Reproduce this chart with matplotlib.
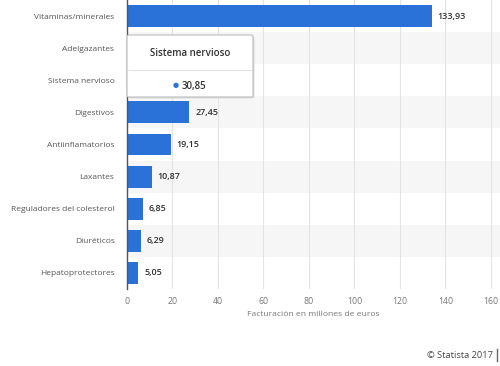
import numpy as np
import matplotlib
matplotlib.use("Agg")
import matplotlib.pyplot as plt
from matplotlib.patches import FancyBboxPatch
from matplotlib.lines import Line2D

categories = ["Vitaminas/minerales", "Adelgazantes", "Sistema nervioso", "Digestivos",
              "Antiinflamatorios", "Laxantes", "Reguladores del colesterol",
              "Diuréticos", "Hepatoprotectores"]
values = [133.93, 35.0, 30.85, 27.45, 19.15, 10.87, 6.85, 6.29, 5.05]
xticks = [0, 20, 40, 60, 80, 100, 120, 140, 160]
# rows covered by the hover tooltip in the original screenshot
covered = [1, 2]
tooltip_row = 2

plt.rcParams['font.family'] = ['Open Sans', 'DejaVu Sans']

W, H = 500, 366
fig = plt.figure(figsize=(5, 3.66), dpi=100)
ax = fig.add_axes([127 / W, 1 - 289 / H, 1 - 127 / W, 289 / H])

y = np.arange(len(categories))
# alternating row bands
for i in y:
    if i % 2 == 1:
        ax.axhspan(i - 0.5, i + 0.5, color='#f6f6f6', zorder=0, lw=0)

ax.barh(y, values, height=0.68, color='#2a72d8', zorder=2)
for yi, v in zip(y, values):
    if yi in covered:
        continue
    ax.text(v + 2.5, yi, f"{v:.2f}".replace('.', ','), va='center', ha='left',
            fontsize=6.5, color='#333333', fontweight='semibold', zorder=3)

ax.set_xlim(0, 164)
ax.set_ylim(len(categories) - 0.5, -0.5)
ax.set_xticks(xticks)
ax.set_yticks(y)
ax.set_yticklabels(categories)
ax.tick_params(axis='y', length=0, pad=9, labelsize=6.0, labelcolor='#555555')
ax.tick_params(axis='x', length=0, pad=6, labelsize=6.3, labelcolor='#777777')
ax.grid(axis='x', color='#e4e4e4', lw=0.8, zorder=1)
ax.set_axisbelow(True)
for sp in ['top', 'right', 'bottom']:
    ax.spines[sp].set_visible(False)
ax.spines['left'].set_color('#555555')
ax.spines['left'].set_linewidth(1.0)
ax.spines['left'].set_zorder(4)
ax.set_xlabel("Facturación en millones de euros", fontsize=6.1, color='#777777', labelpad=3)

# tooltip
x0, x1, y0, y1 = 127 / W, 253 / W, 1 - 97 / H, 1 - 35 / H
shadow = FancyBboxPatch((x0 + 0.003, y0 - 0.004), x1 - x0, y1 - y0,
                        boxstyle="round,pad=0,rounding_size=0.004",
                        transform=fig.transFigure, fc='#dddddd', ec='none', zorder=5)
box = FancyBboxPatch((x0, y0), x1 - x0, y1 - y0,
                     boxstyle="round,pad=0,rounding_size=0.004",
                     transform=fig.transFigure, fc='white', ec='#bbbbbb', lw=0.8, zorder=6)
fig.add_artist(shadow)
fig.add_artist(box)
fig.add_artist(Line2D([x0 + 0.004, x1 - 0.004], [1 - 70 / H] * 2, transform=fig.transFigure,
                      color='#e2e2e2', lw=0.8, zorder=7))
fig.text(190 / W, 1 - 53 / H, categories[tooltip_row], ha='center', va='center', fontsize=7,
         fontweight='semibold', color='#333333', zorder=8)
fig.text(176 / W, 1 - 86 / H, "●", ha='center', va='center', fontsize=5, color='#2a72d8', zorder=8)
fig.text(182 / W, 1 - 86 / H, f"{values[tooltip_row]:.2f}".replace('.', ','), ha='left',
         va='center', fontsize=7, fontweight='semibold', color='#333333', zorder=8)

fig.text(493 / W, 1 - 355 / H, "© Statista 2017", ha='right', va='center', fontsize=6.7, color='#444444')
fig.add_artist(Line2D([497 / W] * 2, [1 - 349 / H, 1 - 361 / H], transform=fig.transFigure,
                      color='#666666', lw=1))

fig.savefig("out.png", dpi=100)
